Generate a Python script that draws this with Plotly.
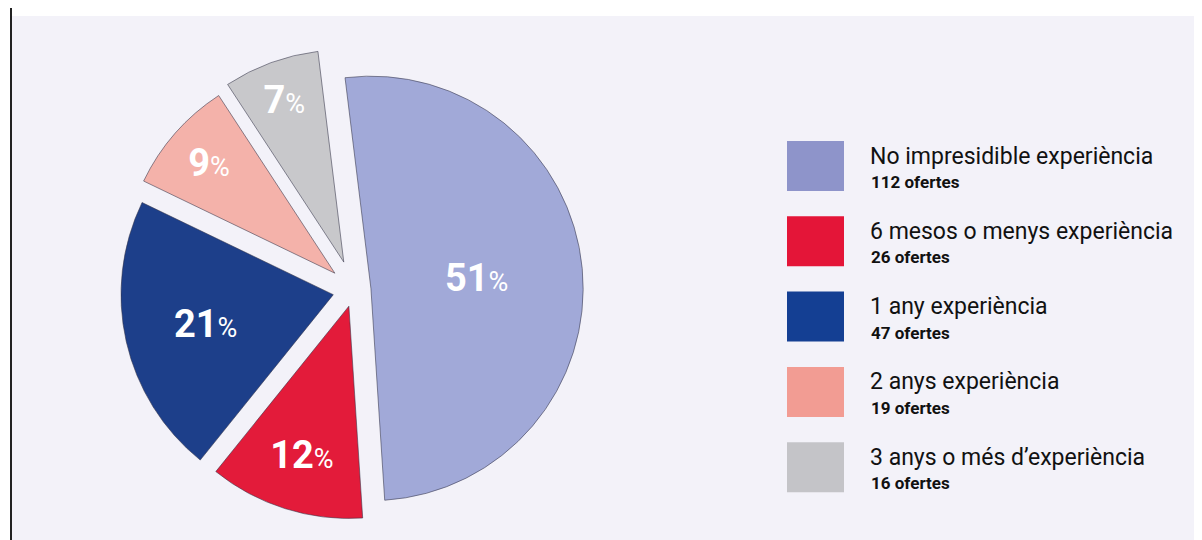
import plotly.graph_objects as go

W, H = 1202, 540
OFF = 8  # page body margin offset

categories = ["No impresidible experiència", "6 mesos o menys experiència",
              "1 any experiència", "2 anys experiència", "3 anys o més d’experiència"]
offers = [112, 26, 47, 19, 16]
pie_colors = ["#a1a9d8", "#e31b3a", "#1d3f8a", "#f4b2aa", "#c8c8cb"]
legend_colors = ["#8e94ca", "#e41538", "#143f93", "#f29c93", "#c4c4c8"]
pulls = [0.08, 0.08, 0.1, 0.12, 0.14]

total = sum(offers)
pct = [round(v / total * 100) for v in offers]
labels_txt = [f"<b>{p}</b><span style='font-size:27px'>%</span>" for p in pct]

def px(x):
    return (x - OFF) / W

def py(y):
    return 1 - (y - OFF) / H

FONT = "Roboto"

cx, cy, half = 354, 290, 242
fig = go.Figure(go.Pie(
    labels=categories, values=offers, text=labels_txt,
    texttemplate="%{text}", textposition="inside", insidetextorientation="horizontal",
    textfont=dict(family=FONT, size=38, color="white"),
    marker=dict(colors=pie_colors, line=dict(color="rgba(50,50,70,0.55)", width=1)),
    sort=False, direction="clockwise", rotation=-7, pull=pulls,
    domain=dict(x=[px(cx - half), px(cx + half)], y=[py(cy + half), py(cy - half)]),
    showlegend=False, hoverinfo="label+value+percent",
))

shapes = [
    dict(type="rect", xref="paper", yref="paper", x0=0, x1=1, y0=py(16), y1=1.05,
         fillcolor="white", line_width=0, layer="below"),
    dict(type="rect", xref="paper", yref="paper", x0=-0.01, x1=px(10), y0=0, y1=1.05,
         fillcolor="white", line_width=0, layer="below"),
    dict(type="line", xref="paper", yref="paper", x0=px(11), x1=px(11), y0=-0.05, y1=1.05,
         line=dict(color="#222", width=2)),
]
annotations = []
step = 75.3
for i, (name, n, col) in enumerate(zip(categories, offers, legend_colors)):
    top = 141 + i * step
    shapes.append(dict(type="rect", xref="paper", yref="paper",
                       x0=px(787), x1=px(844), y0=py(top + 50), y1=py(top),
                       fillcolor=col, line_width=0))
    annotations.append(dict(xref="paper", yref="paper", x=px(868), y=py(top + 15),
                            text=name, showarrow=False, xanchor="left", yanchor="middle",
                            font=dict(family=FONT, size=23, color="#111")))
    annotations.append(dict(xref="paper", yref="paper", x=px(869), y=py(top + 41),
                            text=f"<b>{n} ofertes</b>", showarrow=False, xanchor="left",
                            yanchor="middle", font=dict(family=FONT, size=17, color="#111")))

fig.update_layout(
    width=W, height=H, margin=dict(l=0, r=0, t=0, b=0),
    paper_bgcolor="#f3f2f9", plot_bgcolor="#f3f2f9",
    shapes=shapes, annotations=annotations, font=dict(family=FONT),
)
fig.write_html("out.html")
